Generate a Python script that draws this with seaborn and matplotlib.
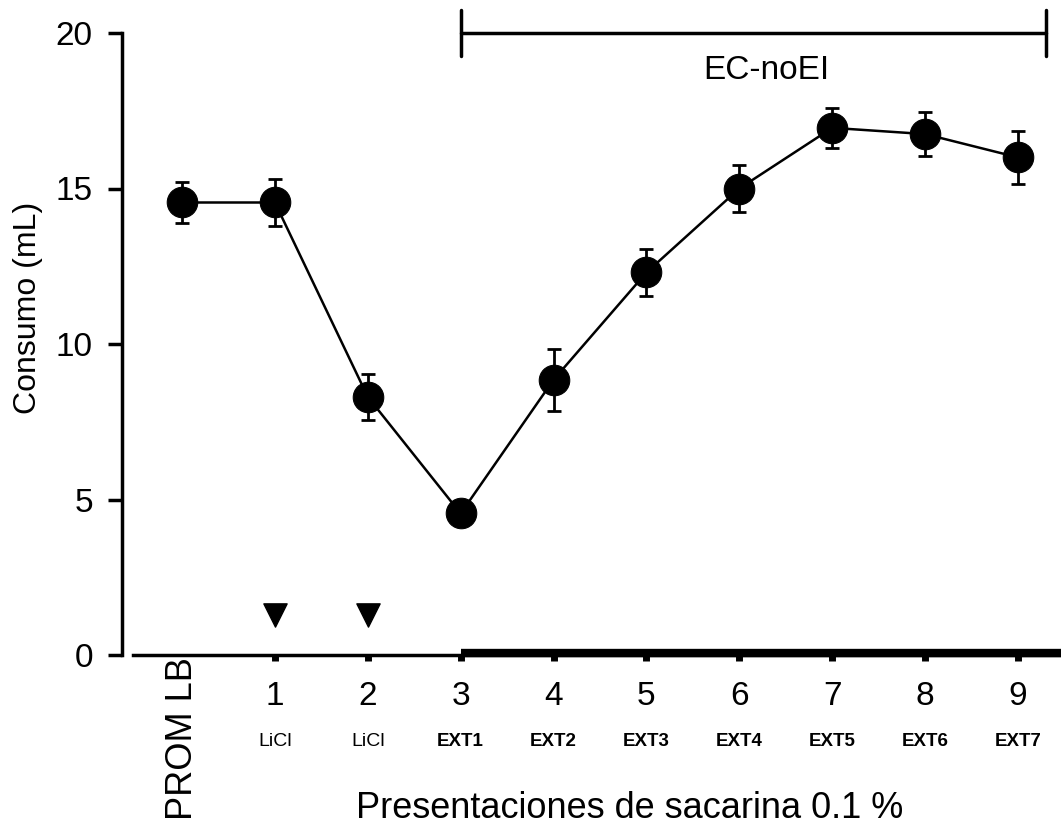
import matplotlib
matplotlib.use("Agg")
import matplotlib.pyplot as plt
import matplotlib.transforms as mtransforms
import seaborn as sns
import pandas as pd

# ---- data ----
positions = [0, 1, 2, 3, 4, 5, 6, 7, 8, 9]
consumo = [14.55, 14.55, 8.3, 4.55, 8.85, 12.3, 15.0, 16.95, 16.75, 16.0]
error = [0.65, 0.75, 0.75, 0.2, 1.0, 0.75, 0.75, 0.65, 0.7, 0.85]
tick_numbers = ["1", "2", "3", "4", "5", "6", "7", "8", "9"]
sub_labels = ["LiCl", "LiCl", "EXT1", "EXT2", "EXT3", "EXT4", "EXT5", "EXT6", "EXT7"]
first_label = "PROM LB"
licl_positions = [1, 2]
licl_marker_y = [1.3, 1.3]
bracket_label = "EC-noEI"
bracket_start, bracket_end = 3, 9.3

df = pd.DataFrame({"pos": positions, "consumo": consumo, "err": error})

sns.set_theme(style="white")
plt.rcParams["font.family"] = ["Liberation Sans", "DejaVu Sans"]

fig = plt.figure(figsize=(10.61, 8.26), dpi=100)
ax = fig.add_axes([122 / 1061, 1 - 655 / 826, 1 - 122 / 1061, (655 - 33) / 826])

ax.errorbar(df["pos"], df["consumo"], yerr=df["err"], fmt="none", ecolor="black",
            elinewidth=2, capsize=5, capthick=2, zorder=2)
sns.lineplot(data=df, x="pos", y="consumo", color="black", linewidth=1.8,
             marker="o", markersize=22, markeredgecolor="black", ax=ax, zorder=3)

ax.scatter(licl_positions, licl_marker_y, marker="v", s=280, color="black", zorder=3)

step = (1018 - 182) / 9
x0 = 0 - (182 - 122) / step
x1 = 9 + (1061 - 1018) / step
ax.set_xlim(x0, x1)
ax.set_ylim(0, 20)

# spines
for s in ["top", "right"]:
    ax.spines[s].set_visible(False)
ax.spines["left"].set_linewidth(2.5)
ax.spines["left"].set_color("black")
ax.spines["bottom"].set_linewidth(2.5)
ax.spines["bottom"].set_color("black")
ax.spines["bottom"].set_bounds(0 - (182 - 133) / step, x1)

# thick segment on axis
ax.plot([3, x1], [0.05, 0.05], color="black", linewidth=6, solid_capstyle="butt",
        clip_on=False, zorder=4)

ax.set_yticks([0, 5, 10, 15, 20])
ax.set_yticklabels(["0", "5", "10", "15", "20"], fontsize=24)
ax.tick_params(axis="y", direction="out", length=10, width=2.5, left=True, pad=11, colors="black")

ax.set_xticks([1, 2, 3, 4, 5, 6, 7, 8, 9])
ax.set_xticklabels(tick_numbers, fontsize=24)
ax.tick_params(axis="x", direction="out", length=4, width=5, bottom=True, pad=15, colors="black")

trans = mtransforms.blended_transform_factory(ax.transData, ax.transAxes)
for p, lab in zip([1, 2, 3, 4, 5, 6, 7, 8, 9], sub_labels):
    bold = lab.startswith("EXT")
    ax.text(p, (655 - 742) / 622, lab, transform=trans, ha="center", va="center",
            fontsize=13.5 if bold else 14, fontweight="bold" if bold else "normal",
            color="black")

ax.text(0, -0.004, first_label, transform=trans, ha="center", va="top",
        rotation=90, fontsize=26, color="black")

ax.set_xlabel("Presentaciones de sacarina 0.1 %", fontsize=26, color="black")
ax.xaxis.set_label_coords((630 - 122) / 939, (655 - 826) / 622)
ax.xaxis.label.set_va("bottom")
ax.set_ylabel("Consumo (mL)", fontsize=23, color="black")
ax.yaxis.set_label_coords(-0.1, 0.558)
ax.yaxis.label.set_va("center")

# bracket
ax.plot([bracket_start, bracket_end], [20, 20], color="black", linewidth=2.5, clip_on=False)
ax.plot([bracket_start, bracket_start], [19.25, 20.75], color="black", linewidth=2.5, clip_on=False)
ax.plot([bracket_end, bracket_end], [19.25, 20.75], color="black", linewidth=2.5, clip_on=False)
ax.text((766 - 182) / step, 18.8, bracket_label, ha="center", va="center",
        fontsize=24, color="black")

fig.savefig("out.png", dpi=100)
